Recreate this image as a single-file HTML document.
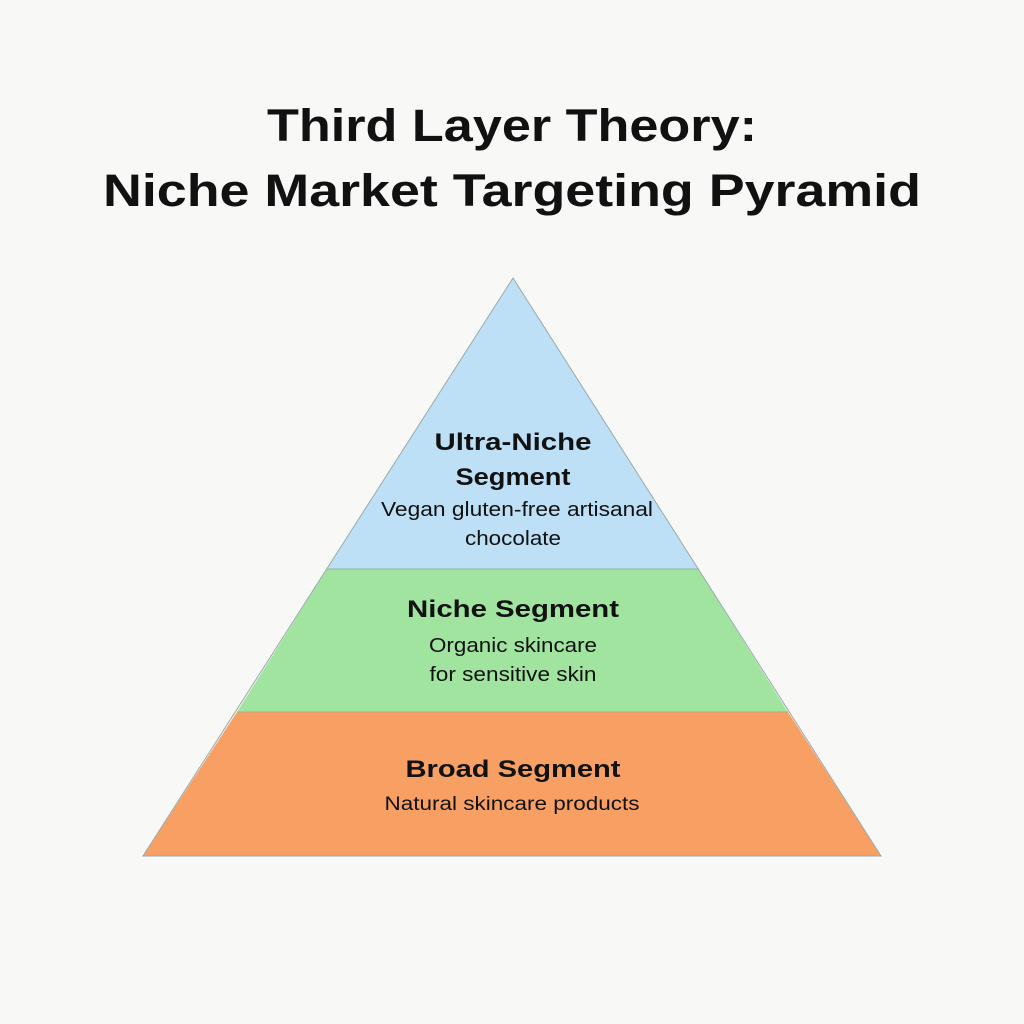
<!DOCTYPE html>
<html><head><meta charset="utf-8"><style>
html,body{margin:0;padding:0;background:#f8f8f7;}
svg{display:block;}
text{font-family:"Liberation Sans",sans-serif;fill:#111;}
</style></head><body>
<svg width="1024" height="1024" viewBox="0 0 1024 1024">
<rect width="1024" height="1024" fill="#f8f8f7"/>
<text x="512" y="141" font-size="45" font-weight="bold" text-anchor="middle" textLength="490" lengthAdjust="spacingAndGlyphs">Third Layer Theory:</text>
<text x="512" y="206" font-size="45" font-weight="bold" text-anchor="middle" textLength="818" lengthAdjust="spacingAndGlyphs">Niche Market Targeting Pyramid</text>
<polygon points="513,278 327,569 698,569" fill="#bde0f7"/>
<polygon points="327,569 698,569 788,712 237,712" fill="#a0e4a0"/>
<polygon points="237,712 788,712 881,856 143,856" fill="#f8a064"/>
<line x1="327" y1="569" x2="698" y2="569" stroke="#8fb0a0" stroke-width="1"/>
<line x1="237" y1="712" x2="788" y2="712" stroke="#c0a080" stroke-width="1"/>
<polygon points="513,278 881,856 143,856" fill="none" stroke="#9aa" stroke-width="1"/>
<text x="513" y="450" font-size="24" font-weight="bold" text-anchor="middle" textLength="157" lengthAdjust="spacingAndGlyphs">Ultra-Niche</text>
<text x="513" y="485" font-size="24" font-weight="bold" text-anchor="middle" textLength="115" lengthAdjust="spacingAndGlyphs">Segment</text>
<text x="517" y="516" font-size="20" text-anchor="middle" textLength="272" lengthAdjust="spacingAndGlyphs">Vegan gluten-free artisanal</text>
<text x="513" y="545" font-size="20" text-anchor="middle" textLength="96" lengthAdjust="spacingAndGlyphs">chocolate</text>
<text x="513" y="617" font-size="24" font-weight="bold" text-anchor="middle" textLength="212" lengthAdjust="spacingAndGlyphs">Niche Segment</text>
<text x="513" y="652" font-size="20" text-anchor="middle" textLength="168" lengthAdjust="spacingAndGlyphs">Organic skincare</text>
<text x="513" y="681" font-size="20" text-anchor="middle" textLength="167" lengthAdjust="spacingAndGlyphs">for sensitive skin</text>
<text x="513" y="777" font-size="24" font-weight="bold" text-anchor="middle" textLength="215" lengthAdjust="spacingAndGlyphs">Broad Segment</text>
<text x="512" y="810" font-size="19" text-anchor="middle" textLength="255" lengthAdjust="spacingAndGlyphs">Natural skincare products</text>
</svg>
</body></html>
